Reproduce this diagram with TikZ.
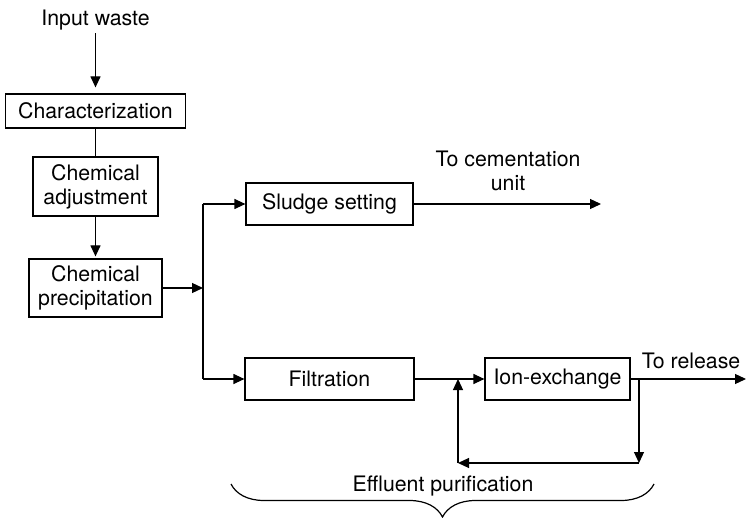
\documentclass[tikz,border=0pt]{standalone}
\usepackage{fontspec}
\setmainfont{TeX Gyre Heros}
\usetikzlibrary{arrows.meta,decorations.pathreplacing}
\begin{document}
\begin{tikzpicture}[x=1pt,y=-1pt,
  txt/.style={font=\fontsize{21.3}{24}\selectfont},
  box/.style={txt,draw,line width=1.2pt,inner sep=0pt,align=center},
  lbl/.style={txt,inner sep=0pt,align=center},
  arr/.style={line width=1.2pt,-{Triangle[length=11pt,width=10pt]}},
  ln/.style={line width=1.2pt}]
\useasboundingbox (0,0) rectangle (746,518);
\node[lbl] (in) at (95.5,20) {Input waste};
\node[box,minimum width=180pt,minimum height=34pt] (char) at (95.5,111) {Characterization};
\node[box,minimum width=125pt,minimum height=59pt] (adj) at (95.5,186.5) {Chemical\\adjustment};
\node[box,minimum width=133pt,minimum height=58pt] (prec) at (95.5,288) {Chemical\\precipitation};
\node[box,minimum width=167pt,minimum height=42pt] (sl) at (329.5,204) {Sludge setting};
\node[box,minimum width=169pt,minimum height=42pt] (fil) at (329.5,379) {Filtration};
\node[box,minimum width=145pt,minimum height=42pt] (ion) at (557.5,379) {Ion-exchange};
\node[lbl] (cemt) at (508,171) {To cementation\\unit};
\node[lbl] (relt) at (691,361) {To release};
\node[lbl] (eff) at (443,486) {Effluent purification};
\coordinate (j) at (203,288);
\coordinate (cem) at (601,204);
\coordinate (rel) at (746,379);
\coordinate (d) at (639,463);
\coordinate (u) at (458,463);
\draw[arr,shorten <=3pt,shorten >=6pt] (in.south) -- (char.north);
\draw[ln] (char) -- (adj);
\draw[arr,shorten >=2pt] (adj) -- (prec);
\draw[arr] (prec.east) -- (prec.east -| j);
\draw[ln] (sl.west -| j) -- (fil.west -| j);
\draw[arr] (sl.west -| j) -- (sl.west);
\draw[arr] (fil.west -| j) -- (fil.west);
\draw[arr] (sl.east) -- (cem);
\draw[arr] (fil.east) -- (ion.west);
\draw[arr] (ion.east) -- (rel);
\draw[arr] (ion.east -| d) -- (d);
\draw[arr] (d) -- (u);
\draw[arr] (u) -- (u |- ion.west);
\draw[ln,decorate,decoration={brace,mirror,amplitude=33pt}] (231,484) -- (654,484);
\end{tikzpicture}
\end{document}
